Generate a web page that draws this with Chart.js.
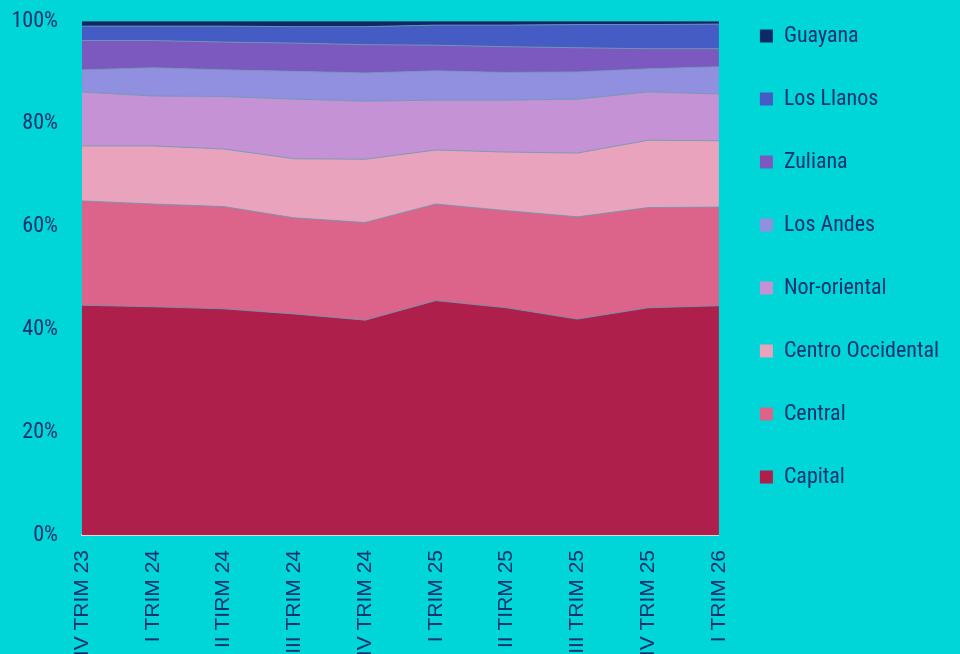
<!DOCTYPE html>
<html>
<head>
<meta charset="utf-8">
<script src="https://cdn.jsdelivr.net/npm/chart.js@4/dist/chart.umd.min.js"></script>
<style>
  html, body { margin: 0; padding: 0; background: #00d6d8; }
  #wrap { position: relative; width: 960px; height: 654px; overflow: hidden; }
</style>
</head>
<body>
<div id="wrap"><canvas id="area-chart"></canvas></div>
<script>
// Regional shares per quarter (percent of total)
const QUARTERS = ['IV TRIM 23', 'I TRIM 24', 'II TIRM 24', 'III TRIM 24', 'IV TRIM 24',
                  'I TRIM 25', 'II TIRM 25', 'III TRIM 25', 'IV TRIM 25', 'I TRIM 26'];

const capital      = [44.7, 44.4, 44.0, 43.0, 41.8, 45.6, 44.2, 42.0, 44.2, 44.6];
const central      = [20.3, 20.0, 19.9, 18.7, 19.0, 18.8, 18.9, 19.9, 19.5, 19.2];
const centroOcc    = [10.7, 11.3, 11.2, 11.5, 12.3, 10.5, 11.4, 12.4, 13.1, 12.9];
const norOriental  = [10.5,  9.7, 10.2, 11.6, 11.3,  9.7, 10.1, 10.5,  9.4,  9.1];
const losAndes     = [ 4.3,  5.5,  5.2,  5.4,  5.5,  5.7,  5.4,  5.3,  4.5,  5.3];
const zuliana      = [ 5.7,  5.3,  5.4,  5.5,  5.5,  5.0,  5.0,  4.7,  3.9,  3.5];
const losLlanos    = [ 2.8,  2.8,  3.1,  3.2,  3.5,  3.9,  4.2,  4.5,  4.7,  4.8];
const guayana      = [ 1.0,  1.0,  1.0,  1.1,  1.1,  0.8,  0.8,  0.7,  0.7,  0.6];

const Y_TICKS = [0, 20, 40, 60, 80, 100];

const SERIES = [
  { label: 'Capital',           data: capital,     color: '#ae1f4b' },
  { label: 'Central',           data: central,     color: '#dc6389' },
  { label: 'Centro Occidental', data: centroOcc,   color: '#e9a3bd' },
  { label: 'Nor-oriental',      data: norOriental, color: '#c492d5' },
  { label: 'Los Andes',         data: losAndes,    color: '#908fe0' },
  { label: 'Zuliana',           data: zuliana,     color: '#7b59bf' },
  { label: 'Los Llanos',        data: losLlanos,   color: '#445cc3' },
  { label: 'Guayana',           data: guayana,     color: '#0d2a66' }
];

const NAVY = '#113270';
const CONDENSED = "'Roboto Condensed', 'Liberation Sans Narrow', Roboto, sans-serif";

// 100% stacked: turn each column into shares of its total
const totals = QUARTERS.map((_, i) => SERIES.reduce((s, d) => s + d.data[i], 0));
const pct = arr => arr.map((v, i) => v / totals[i] * 100);

// legend sits higher than Chart.js would place it by default
const legendShift = {
  id: 'legendShift',
  afterLayout(chart) {
    if (!chart.legend) return;
    chart.legend.top -= 37;
    chart.legend.bottom -= 37;
  }
};

new Chart(document.getElementById('area-chart').getContext('2d'), {
  type: 'line',
  data: {
    labels: QUARTERS,
    datasets: SERIES.map((s, i) => ({
      label: s.label,
      data: pct(s.data),
      backgroundColor: s.color,
      borderColor: 'rgba(120,150,175,0.85)',
      borderWidth: 1,
      pointRadius: 0,
      tension: 0,
      fill: i === 0 ? 'origin' : '-1'
    }))
  },
  options: {
    responsive: true,
    maintainAspectRatio: false,
    animation: false,
    layout: { padding: { top: 21, right: 11, left: 0, bottom: 0 } },
    plugins: {
      tooltip: { enabled: false },
      legend: {
        position: 'right',
        align: 'start',
        reverse: true,
        labels: {
          color: NAVY,
          boxWidth: 13,
          boxHeight: 13,
          padding: 41,
          font: { size: 22, family: CONDENSED },
          generateLabels(chart) {
            const items = Chart.defaults.plugins.legend.labels.generateLabels(chart);
            items.forEach(it => { it.strokeStyle = it.fillStyle; it.lineWidth = 0; });
            return items;
          }
        }
      }
    },
    scales: {
      x: {
        offset: false,
        grid: { display: false, drawTicks: false },
        border: { display: true, color: '#d9d9d9', width: 2 },
        ticks: {
          autoSkip: false,
          minRotation: 90,
          maxRotation: 90,
          padding: 15,
          color: NAVY,
          font: { size: 21, family: "'Liberation Sans', Arial, sans-serif" }
        },
        afterFit(scale) { scale.height = 119; }
      },
      y: {
        stacked: true,
        min: 0,
        max: 100,
        afterBuildTicks(scale) { scale.ticks = Y_TICKS.map(v => ({ value: v })); },
        grid: { display: false, drawTicks: false },
        border: { display: false },
        ticks: {
          padding: 24,
          color: NAVY,
          font: { size: 22, family: CONDENSED },
          callback: v => v + '%'
        },
        afterFit(scale) {
          scale.width = 82;
          scale.paddingTop = 0;
          scale.paddingBottom = 0;
        }
      }
    }
  },
  plugins: [legendShift]
});
</script>
</body>
</html>
